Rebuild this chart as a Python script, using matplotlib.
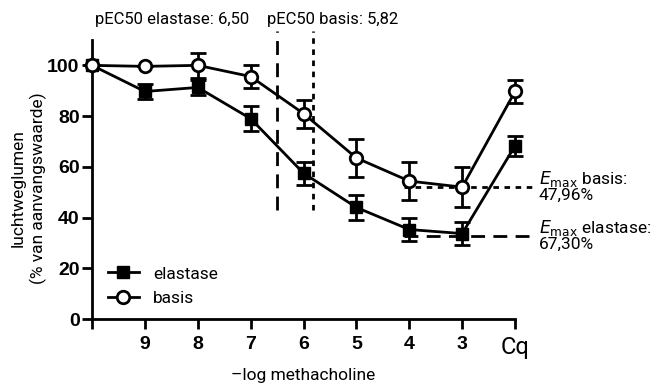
import matplotlib
matplotlib.use("Agg")
import matplotlib.pyplot as plt
from matplotlib.lines import Line2D

# -log [methacholine]; 10 = start (no label), 2 = Cq position
x = [10, 9, 8, 7, 6, 5, 4, 3, 2]
tick_pos = [10, 9, 8, 7, 6, 5, 4, 3, 2]
tick_labels = ["", "9", "8", "7", "6", "5", "4", "3", "Cq"]

elastase = [100, 89.7, 91.3, 79.0, 57.5, 44.0, 35.3, 33.7, 68.3]
elastase_err = [0, 3.0, 3.0, 5.0, 4.5, 5.0, 4.5, 4.5, 4.0]
basis = [100, 99.6, 100.0, 95.6, 81.0, 63.5, 54.4, 52.0, 89.7]
basis_err = [0, 0, 5.0, 4.5, 5.5, 7.5, 7.5, 8.0, 4.5]

pec50_elastase = 6.50
pec50_basis = 5.82
emax_elastase = 67.30
emax_basis = 47.96

txt_font = "Roboto"
tick_font = "Liberation Sans"

fig = plt.figure(figsize=(6.62, 3.92), dpi=100)
ax = fig.add_axes([0.139, 0.186, 0.639, 0.712])

ax.errorbar(x, elastase, yerr=elastase_err, color="black", lw=2, marker="s",
            ms=8, capsize=6, capthick=2, elinewidth=2,
            clip_on=False, zorder=3)
ax.errorbar(x, basis, yerr=basis_err, color="black", lw=2, marker="o",
            ms=9, mfc="white", mew=2, capsize=6, capthick=2, elinewidth=2,
            clip_on=False, zorder=4)

# pEC50 lines
ax.plot([pec50_elastase, pec50_elastase], [43, 113.5], color="black", lw=2,
        ls=(0, (5, 3)), clip_on=False)
ax.plot([pec50_basis, pec50_basis], [43, 113.5], color="black", lw=2,
        ls=(0, (2, 2)), clip_on=False)

# Emax lines
ax.plot([4.1, 1.6], [100 - emax_basis] * 2, color="black", lw=2,
        ls=(0, (2, 2)), clip_on=False)
ax.plot([4.1, 1.6], [100 - emax_elastase] * 2, color="black", lw=2,
        ls=(0, (5, 3)), clip_on=False)

ax.text(1.55, 100 - emax_basis + 0.5, r"$E_{\mathrm{max}}$ basis:" + "\n47,96%",
        fontsize=12.5, family=txt_font, va="center", ha="left", linespacing=0.95)
ax.text(1.55, 100 - emax_elastase + 0.5, r"$E_{\mathrm{max}}$ elastase:" + "\n67,30%",
        fontsize=12.5, family=txt_font, va="center", ha="left", linespacing=0.95)

fig.text(0.143, 0.95, "pEC50 elastase: 6,50", fontsize=12, family=txt_font,
         ha="left", va="center")
fig.text(0.403, 0.95, "pEC50 basis: 5,82", fontsize=12, family=txt_font,
         ha="left", va="center")

ax.set_xlim(10, 2)
ax.set_ylim(0, 110)
ax.set_xticks(tick_pos)
ax.set_xticklabels(tick_labels)
ax.set_yticks([0, 20, 40, 60, 80, 100])
for lab in ax.get_xticklabels() + ax.get_yticklabels():
    lab.set_family(tick_font)
    lab.set_fontweight("bold")
    lab.set_fontsize(14)
ax.get_xticklabels()[-1].set_fontweight("normal")
ax.get_xticklabels()[-1].set_family(txt_font)
ax.get_xticklabels()[-1].set_fontsize(17)

ax.tick_params(width=2, length=7, direction="out")
ax.tick_params(axis="x", pad=5)
ax.tick_params(axis="y", pad=2)
for s in ["top", "right"]:
    ax.spines[s].set_visible(False)
for s in ["left", "bottom"]:
    ax.spines[s].set_linewidth(2)

ax.set_xlabel("\u2013log methacholine", fontsize=12.5, family=txt_font, labelpad=7)
fig.text(0.028, 0.52, "luchtweglumen", rotation=90, fontsize=12.5,
         family=txt_font, ha="center", va="center")
fig.text(0.058, 0.52, "(% van aanvangswaarde)", rotation=90, fontsize=12.5,
         family=txt_font, ha="center", va="center")

handles = [
    Line2D([], [], color="black", lw=2, marker="s", ms=8),
    Line2D([], [], color="black", lw=2, marker="o", ms=9, mfc="white", mew=2),
]
ax.legend(handles, ["elastase", "basis"], loc="lower left",
          bbox_to_anchor=(0.0, -0.01), frameon=False,
          prop={"family": txt_font, "size": 12.5}, handlelength=1.8,
          labelspacing=0.55, handletextpad=0.8)

fig.savefig("out.png", dpi=100)
